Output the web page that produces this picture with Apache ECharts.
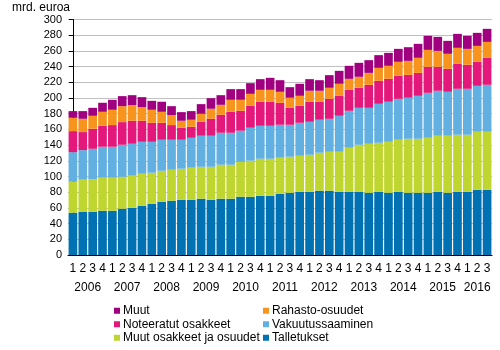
<!DOCTYPE html>
<html>
<head>
<meta charset="utf-8">
<script src="https://cdn.jsdelivr.net/npm/echarts@6/dist/echarts.min.js"></script>
<style>
  html, body { margin: 0; padding: 0; background: #fff; }
  #chart { width: 500px; height: 350px; }
</style>
</head>
<body>
<div id="chart"></div>
<script>
const QUARTERS = [
  "1","2","3","4","1","2","3","4","1","2","3","4","1","2","3","4",
  "1","2","3","4","1","2","3","4","1","2","3","4","1","2","3","4",
  "1","2","3","4","1","2","3","4","1","2","3"
];
const YEARS = ["2006","2007","2008","2009","2010","2011","2012","2013","2014","2015","2016"];
// keskikohta kunkin vuoden pylväsryhmälle (indeksi)
const YEAR_POS = [1.5, 5.5, 9.5, 13.5, 17.5, 21.5, 25.5, 29.5, 33.5, 37.5, 41];

const talletukset = [53.9,55.2,55,56.4,56.4,59,60.2,62.8,65.3,67.9,69.2,70.4,70.4,71.7,70.4,71.7,
  71.7,74.2,74.2,75.5,75.5,78.1,79.3,80.6,80.6,81.9,81.9,80.6,80.6,80.6,79.3,80.6,
  79.3,80.6,79.3,79.3,79.3,80.6,79.3,80.6,80.6,83.2,83.2];
const muutOsakkeet = [39.4,40.7,41.7,42,42,40.7,40.8,40.7,39.5,39.4,39.4,39.5,40.8,40.7,42,43.3,
  43.3,44.6,45.9,47.1,47.1,45.8,45.9,45.8,47.1,48.4,49.6,50.9,56,59.8,62.4,62.4,
  64.9,66.2,68.8,68.8,70,71.3,72.6,72.6,72.6,73.8,73.8];
const vakuutus = [37.7,37.7,38.6,39.5,39.5,40.7,40.7,40.7,39.4,39.5,38.2,36.9,38.1,39.5,39.5,40.7,
  40.7,39.5,42,42,42,42,40.7,42,42,42,42,45.8,47.1,47.1,45.8,49.6,
  51,52.2,52.2,54.7,57.3,57.3,56,58.5,58.5,58.5,59.8];
const noteeratut = [26.8,23,25.5,26.7,27.6,28.9,29.3,26.8,24.2,21.6,18.7,15.3,14,17.8,21.6,22.9,
  26.7,25.4,28,30.6,30.6,28,21.6,21.7,25.5,22.9,25.5,25.5,26.7,25.5,29.3,29.3,
  29.2,29.3,29.2,29.2,33.1,30.5,29.3,31.8,30.6,30.6,34.4];
const rahasto = [17,16.9,16.5,17.8,19.5,20.3,19.9,17.4,16.6,14,12.7,8.9,9,10.2,12.8,12.7,
  15.3,14,15.2,15.2,15.2,14,12.8,12.7,14,14,14,15.3,14,14,15.2,16.5,
  16.6,17.8,17.8,19.2,21.6,20.3,19.1,20.4,20.3,20.3,20.3];
const muut = [8.5,9.8,10.2,11.5,12.7,12.8,12.7,12.7,11.4,12.8,11.4,11,11,12.3,13.5,12.3,
  13.6,13.6,13.6,13.6,15.3,14.8,13.5,15.3,14.8,13.5,16.1,16.5,16.6,17.8,16.2,16.2,
  16.5,16.5,17.4,17.8,17.9,17.9,16.5,17.8,16.6,16.6,16.6];

const SERIES = [
  { name: "Talletukset", data: talletukset, color: "#0071b3" },
  { name: "Muut osakkeet ja osuudet", data: muutOsakkeet, color: "#c0d630" },
  { name: "Vakuutussaaminen", data: vakuutus, color: "#62afe2" },
  { name: "Noteeratut osakkeet", data: noteeratut, color: "#e3187a" },
  { name: "Rahasto-osuudet", data: rahasto, color: "#f7941e" },
  { name: "Muut", data: muut, color: "#a0007f" }
];

const FONT = "'Liberation Sans', Arial, sans-serif";
const chart = echarts.init(document.getElementById("chart"));

const legendBase = {
  orient: "vertical",
  top: 304,
  padding: 0,
  itemWidth: 6,
  itemHeight: 6,
  itemGap: 0,
  icon: "rect",
  selectedMode: false,
  textStyle: { fontFamily: FONT, fontSize: 12, lineHeight: 13.5, color: "#000", padding: [0, 0, 0, -2] }
};

chart.setOption({
  animation: false,
  textStyle: { fontFamily: FONT },
  grid: { left: 68, right: 8, top: 19.5, bottom: 95, containLabel: false },
  graphic: [{
    type: "text", left: 12, top: 2,
    style: { text: "mrd. euroa", fontFamily: FONT, fontSize: 12, fill: "#000" }
  }],
  legend: [
    Object.assign({}, legendBase, { left: 114, data: ["Muut", "Noteeratut osakkeet", "Muut osakkeet ja osuudet"] }),
    Object.assign({}, legendBase, { left: 263, data: ["Rahasto-osuudet", "Vakuutussaaminen", "Talletukset"] })
  ],
  xAxis: [{
    type: "category",
    data: QUARTERS,
    axisLine: { lineStyle: { color: "#000", width: 1 } },
    axisTick: { show: false },
    axisLabel: { interval: 0, color: "#000", fontSize: 12, margin: 8 }
  }, {
    type: "value",
    min: -0.5,
    max: 42.5,
    position: "bottom",
    offset: 19,
    axisLine: { show: false },
    axisTick: { show: false },
    splitLine: { show: false },
    axisLabel: {
      customValues: YEAR_POS,
      color: "#000", fontSize: 12, margin: 8,
      formatter: v => YEARS[YEAR_POS.indexOf(v)] || ""
    }
  }],
  yAxis: {
    type: "value",
    min: 0, max: 300, interval: 20,
    axisLine: { show: true, lineStyle: { color: "#000" } },
    axisTick: { show: true, length: 4, lineStyle: { color: "#000" } },
    axisLabel: { color: "#000", fontSize: 11, margin: 6 },
    splitLine: { lineStyle: { color: "#c0c0c0" } }
  },
  series: SERIES.map(s => ({
    name: s.name,
    type: "bar",
    stack: "total",
    xAxisIndex: 0,
    barCategoryGap: "12%",
    data: s.data,
    itemStyle: { color: s.color }
  }))
});
</script>
</body>
</html>
